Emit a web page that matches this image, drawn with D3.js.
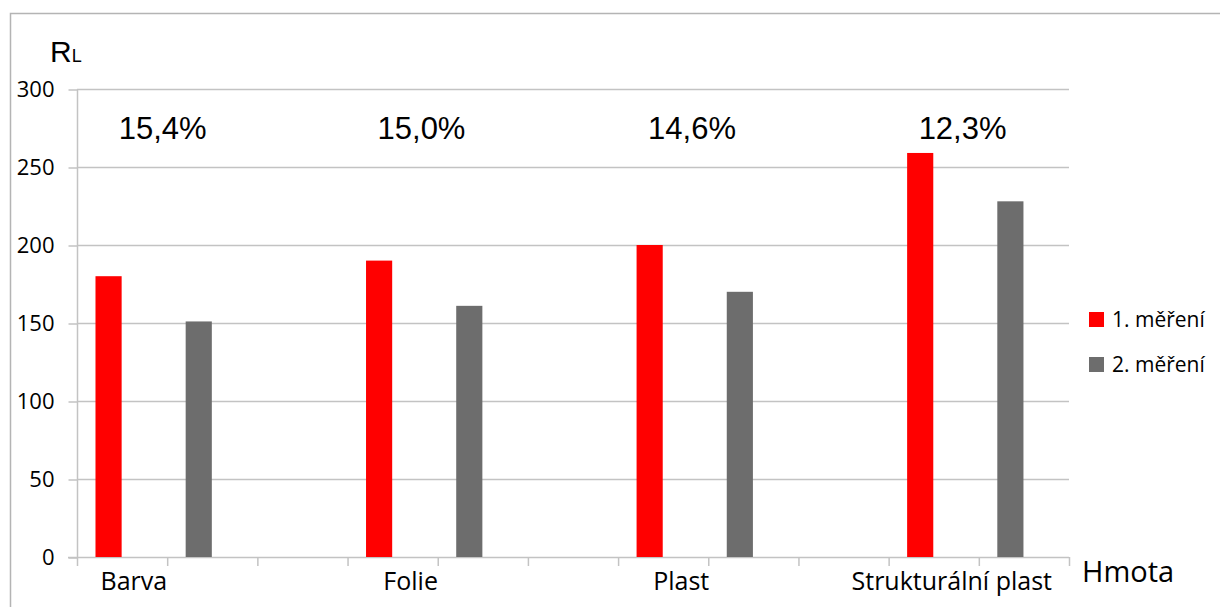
<!DOCTYPE html>
<html>
<head>
<meta charset="utf-8">
<script src="https://cdn.jsdelivr.net/npm/d3@7"></script>
<style>
  body { margin: 0; background: #fff; }
  svg { display: block; }
</style>
</head>
<body>
<script>
// chart data
let categories = ["Barva", "Folie", "Plast", "Strukturální plast"];
let mereni1 = [180, 190, 200, 259];
let mereni2 = [151, 161, 170, 228];
let poklesy = ["15,4%", "15,0%", "14,6%", "12,3%"];
let seriesNames = ["1. měření", "2. měření"];
let yTicks = [0, 50, 100, 150, 200, 250, 300];

let width = 1220,
  height = 607;

let colors = ["#ff0000", "#6d6d6d"];
let gridColor = "#c3c3c3";

window.onload = function () {
  let svg = d3.select("body")
    .append("svg")
    .attr("width", width)
    .attr("height", height);

  // outer frame (top and left edge only visible)
  svg.append("path")
    .attr("d", "M10.5," + height + "V13.5H" + width)
    .attr("fill", "none")
    .attr("stroke", "#b4b4b4")
    .attr("stroke-width", 1.5);

  // each category takes 3 slots: 1st measurement, 2nd measurement, gap
  let nSlots = categories.length * 3 - 1;
  let x = d3.scaleBand()
    .domain(d3.range(nSlots))
    .range([77, 1069]);
  let bw = x.bandwidth();

  let y = d3.scaleLinear()
    .domain([0, 300])
    .range([557, 89]);

  // gridlines
  svg.append("g")
    .selectAll("line")
    .data(yTicks.filter(d => d > 0))
    .join("line")
    .attr("x1", 77)
    .attr("x2", 1069)
    .attr("y1", d => y(d) + 0.5)
    .attr("y2", d => y(d) + 0.5)
    .attr("stroke", gridColor)
    .attr("stroke-width", 1.5);

  // y axis
  let yAxis = svg.append("g")
    .attr("transform", "translate(77.5,0.5)")
    .call(d3.axisLeft(y).tickValues(yTicks).tickSize(9).tickPadding(14));
  yAxis.select(".domain").attr("stroke", gridColor).attr("stroke-width", 1.5)
    .attr("d", "M0," + y(300) + "V" + y(0));
  yAxis.selectAll(".tick line").attr("stroke", gridColor).attr("stroke-width", 1.5);
  yAxis.selectAll(".tick text")
    .attr("font-family", "Open Sans")
    .attr("font-size", 22)
    .attr("fill", "#000");

  // x axis baseline with slot ticks
  let xAxis = svg.append("g");
  xAxis.append("line")
    .attr("x1", 68)
    .attr("x2", 1069)
    .attr("y1", y(0) + 0.5)
    .attr("y2", y(0) + 0.5)
    .attr("stroke", gridColor)
    .attr("stroke-width", 1.5);
  xAxis.selectAll(".slot")
    .data(d3.range(nSlots + 1))
    .join("line")
    .attr("class", "slot")
    .attr("x1", d => (d < nSlots ? x(d) : x(nSlots - 1) + bw) + 0.5)
    .attr("x2", d => (d < nSlots ? x(d) : x(nSlots - 1) + bw) + 0.5)
    .attr("y1", y(0))
    .attr("y2", y(0) + 9)
    .attr("stroke", gridColor)
    .attr("stroke-width", 1.5);

  // bars
  let bars = [];
  categories.forEach((c, i) => {
    bars.push({ slot: i * 3, value: mereni1[i], s: 0 });
    bars.push({ slot: i * 3 + 1, value: mereni2[i], s: 1 });
  });

  svg.append("g")
    .selectAll("rect")
    .data(bars)
    .join("rect")
    .attr("x", d => x(d.slot) + bw * 0.205)
    .attr("width", bw * 0.29)
    .attr("y", d => y(d.value))
    .attr("height", d => y(0) - y(d.value))
    .attr("fill", d => colors[d.s]);

  // category labels
  svg.append("g")
    .selectAll("text")
    .data(categories)
    .join("text")
    .attr("x", (d, i) => x(i * 3) + bw * (i == 0 ? 0.63 : 0.7))
    .attr("y", 590)
    .attr("text-anchor", "middle")
    .attr("font-family", "Open Sans")
    .attr("font-size", 25)
    .attr("fill", "#000")
    .text(d => d);

  // decrease percentages
  svg.append("g")
    .selectAll("text")
    .data(poklesy)
    .join("text")
    .attr("x", (d, i) => x(i * 3) + bw * (i == 0 ? 0.95 : 0.82))
    .attr("y", 139)
    .attr("text-anchor", "middle")
    .attr("font-family", "Liberation Sans")
    .attr("font-size", 31)
    .attr("fill", "#000")
    .text(d => d);

  // axis titles
  let rl = svg.append("text")
    .attr("x", 50)
    .attr("y", 62)
    .attr("font-family", "Liberation Sans")
    .attr("fill", "#000");
  rl.append("tspan").attr("font-size", 30).text("R");
  rl.append("tspan").attr("font-size", 18).text("L");

  svg.append("text")
    .attr("x", 1082)
    .attr("y", 582)
    .attr("font-family", "Open Sans")
    .attr("font-size", 29)
    .attr("fill", "#000")
    .text("Hmota");

  // legend
  let legend = svg.append("g")
    .selectAll("g")
    .data(seriesNames)
    .join("g")
    .attr("transform", (d, i) => "translate(1089," + (312 + i * 45) + ")");
  legend.append("rect")
    .attr("width", 15)
    .attr("height", 15)
    .attr("fill", (d, i) => colors[i]);
  legend.append("text")
    .attr("x", 23)
    .attr("y", 15)
    .attr("font-family", "Open Sans")
    .attr("font-size", 21)
    .attr("fill", "#000")
    .text(d => d);
}
</script>
</body>
</html>
